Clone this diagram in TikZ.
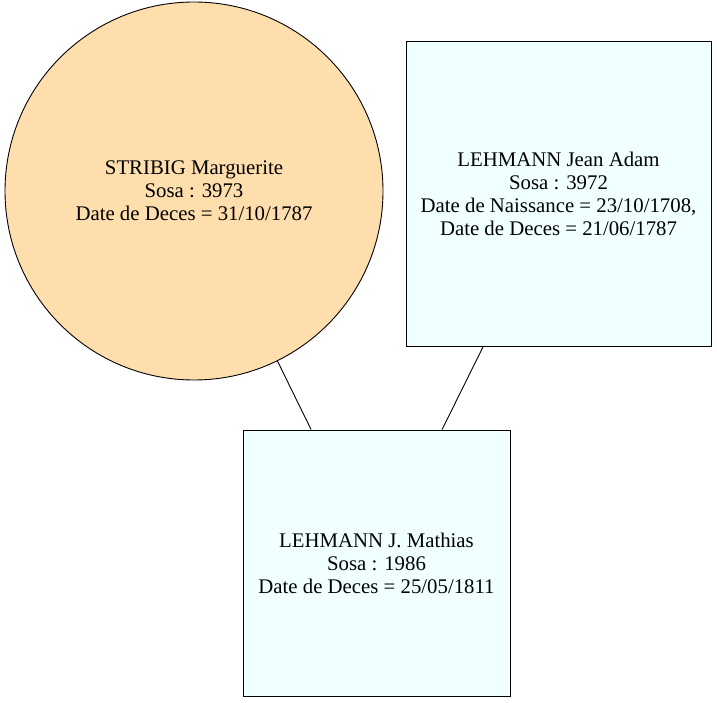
\documentclass[tikz,border=0pt]{standalone}
\usepackage{fontspec}
\setmainfont{Liberation Serif}
\begin{document}
\begin{tikzpicture}[x=1pt,y=1pt,
  person/.style={draw=black, line width=0.9pt, align=center, inner sep=0pt,
    font=\fontsize{20.8}{23}\selectfont},
  female/.style={person, circle, fill={rgb,255:red,255;green,222;blue,173}, minimum size=378pt},
  male/.style={person, rectangle, fill={rgb,255:red,240;green,255;blue,255}},
  link/.style={draw=black, line width=0.9pt}]
\useasboundingbox (0,0) rectangle (717,702);
\node[female] (m) at (194,511) {STRIBIG Marguerite\\Sosa : 3973\\Date de Deces = 31/10/1787};
\node[male, minimum width=305pt, minimum height=305pt] (f) at (558.5,508.5) {LEHMANN Jean Adam\\Sosa : 3972\\Date de Naissance = 23/10/1708,\\Date de Deces = 21/06/1787};
\node[male, minimum width=267pt, minimum height=266pt] (c) at (376.5,139) {LEHMANN J. Mathias\\Sosa : 1986\\Date de Deces = 25/05/1811};
\draw[link] (m) -- (c);
\draw[link] (f) -- (c);
\end{tikzpicture}
\end{document}
